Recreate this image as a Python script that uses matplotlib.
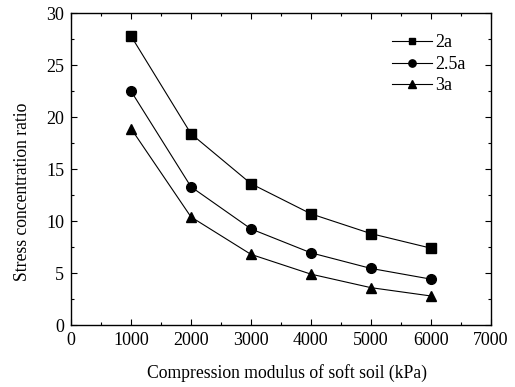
import matplotlib
matplotlib.use('Agg')
import matplotlib.pyplot as plt
from matplotlib.ticker import MultipleLocator

plt.rcParams['font.family'] = ['Liberation Serif', 'DejaVu Serif']

# compression modulus (kPa)
modulus = [1000, 2000, 3000, 4000, 5000, 6000]
ratio_2a = [27.8, 18.4, 13.6, 10.7, 8.8, 7.4]
ratio_25a = [22.5, 13.3, 9.25, 6.95, 5.45, 4.42]
ratio_3a = [18.9, 10.4, 6.8, 4.9, 3.6, 2.8]
labels = ['2a', '2.5a', '3a']

fig = plt.figure(figsize=(5.15, 3.87), dpi=100)
ax = fig.add_axes([0.138, 0.160, 0.815, 0.806])

ax.plot(modulus, ratio_2a, 'k-s', lw=0.8, ms=6.5, label=labels[0])
ax.plot(modulus, ratio_25a, 'k-o', lw=0.8, ms=7, label=labels[1])
ax.plot(modulus, ratio_3a, 'k-^', lw=0.8, ms=7.5, label=labels[2])

ax.set_xlim(0, 7000)
ax.set_ylim(0, 30)
ax.xaxis.set_major_locator(MultipleLocator(1000))
ax.xaxis.set_minor_locator(MultipleLocator(500))
ax.yaxis.set_major_locator(MultipleLocator(5))
ax.yaxis.set_minor_locator(MultipleLocator(2.5))
ax.tick_params(which='both', direction='in', top=True, right=True, labeltop=False, labelright=False)
ax.tick_params(which='major', length=4, width=0.8, labelsize=13, pad=5)
ax.tick_params(which='minor', length=2.5, width=0.8)
for s in ax.spines.values():
    s.set_linewidth(1.0)

ax.set_xlabel('Compression modulus of soft soil (kPa)', fontsize=12.7, labelpad=12)
ax.xaxis.set_label_coords(0.515, -0.125)
ax.set_ylabel('Stress concentration ratio', fontsize=12.7)
ax.yaxis.set_label_coords(-0.095, 0.426)

leg = ax.legend(loc='upper left', bbox_to_anchor=(0.748, 0.955), frameon=False, fontsize=13,
                handlelength=2.2, handletextpad=0.2, labelspacing=0.25, borderaxespad=0,
                markerscale=0.75)

fig.savefig('out.png', dpi=100)
